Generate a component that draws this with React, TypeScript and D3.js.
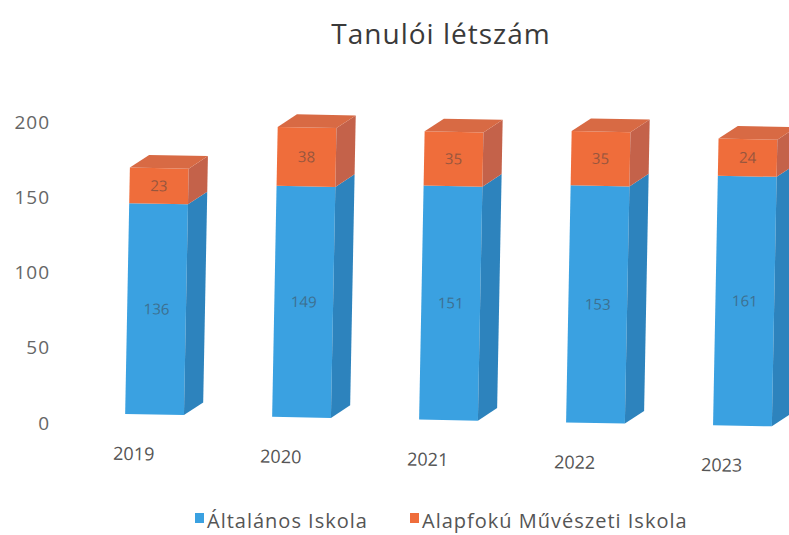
import React from "react";
import * as d3 from "d3";

const years = ["2019", "2020", "2021", "2022", "2023"];
const altalanos = [136, 149, 151, 153, 161];
const muveszeti = [23, 38, 35, 35, 24];
const yTicks = [0, 50, 100, 150, 200];
const seriesNames = ["Általános Iskola", "Alapfokú Művészeti Iskola"];

const W = 789;
const H = 535;
const DX = 19;
const DY = 13;
const FONT = "'Open Sans', 'Liberation Sans', sans-serif";

const colors = [
  { front: "#3aa1e1", side: "#2d83bd", top: "#4cb0ea" },
  { front: "#ef6d3b", side: "#c4624a", top: "#d86a44" },
];

export default function App() {
  const x = d3
    .scaleBand<string>()
    .domain(years)
    .range([81, 816])
    .paddingInner(0.6)
    .paddingOuter(0.3);
  const yBar = d3.scaleLinear().domain([0, 200]).range([420, 420 - 200 * 1.55]);
  const yAxis = d3.scaleLinear().domain([0, 200]).range([423, 122]);
  const bw = x.bandwidth();

  const stacked = years.map((yr, i) => {
    const a = altalanos[i];
    const m = muveszeti[i];
    return [
      { key: 0, y0: 0, y1: a, v: a },
      { key: 1, y0: a, y1: a + m, v: m },
    ];
  });

  return (
    <svg width={W} height={H} style={{ display: "block", position: "absolute", left: 0, top: 0, background: "#fff" }}>
      <rect width={W} height={H} fill="#fff" />
      <text x={441} y={44} textAnchor="middle" fontFamily={FONT} fontSize={28} letterSpacing={1} fill="#3a3a3a">
        Tanulói létszám
      </text>
      <g fontFamily={FONT} fontSize={19} fill="#666" textAnchor="end" letterSpacing={1}>
        {yTicks.map((t) => (
          <text key={t} x={50} y={yAxis(t)} dy="0.35em">
            {t}
          </text>
        ))}
      </g>
      <g transform="rotate(1.1 440 420)">
        {years.map((yr, i) => {
          const xl = x(yr)!;
          const xr = xl + bw;
          return (
            <g key={yr}>
              {stacked[i].map((s) => {
                const c = colors[s.key];
                const yb = yBar(s.y0);
                const yt = yBar(s.y1);
                const isTop = s.key === 1;
                return (
                  <g key={s.key}>
                    <rect x={xl} y={yt} width={bw} height={yb - yt} fill={c.front} />
                    <polygon
                      points={`${xr},${yb} ${xr + DX},${yb - DY} ${xr + DX},${yt - DY} ${xr},${yt}`}
                      fill={c.side}
                    />
                    {isTop && (
                      <polygon
                        points={`${xl},${yt} ${xl + DX},${yt - DY} ${xr + DX},${yt - DY} ${xr},${yt}`}
                        fill={c.top}
                      />
                    )}
                    <text
                      x={xl + bw / 2}
                      y={(yb + yt) / 2}
                      dy="0.35em"
                      textAnchor="middle"
                      fontFamily={FONT}
                      fontSize={15}
                      fill="#404040"
                      opacity={0.5}
                    >
                      {s.v}
                    </text>
                  </g>
                );
              })}
            </g>
          );
        })}
        <g fontFamily={FONT} fontSize={18} fill="#555" textAnchor="middle">
          {years.map((yr) => (
            <text key={yr} x={x(yr)! + bw / 2 - 20} y={466}>
              {yr}
            </text>
          ))}
        </g>
      </g>
      <g fontFamily={FONT} fontSize={20} letterSpacing={1} fill="#555">
        {seriesNames.map((n, i) => {
          const lx = i === 0 ? 195 : 410;
          return (
            <g key={n}>
              <rect x={lx} y={513} width={9} height={10} fill={colors[i].front} />
              <text x={lx + 12} y={528}>
                {n}
              </text>
            </g>
          );
        })}
      </g>
    </svg>
  );
}
